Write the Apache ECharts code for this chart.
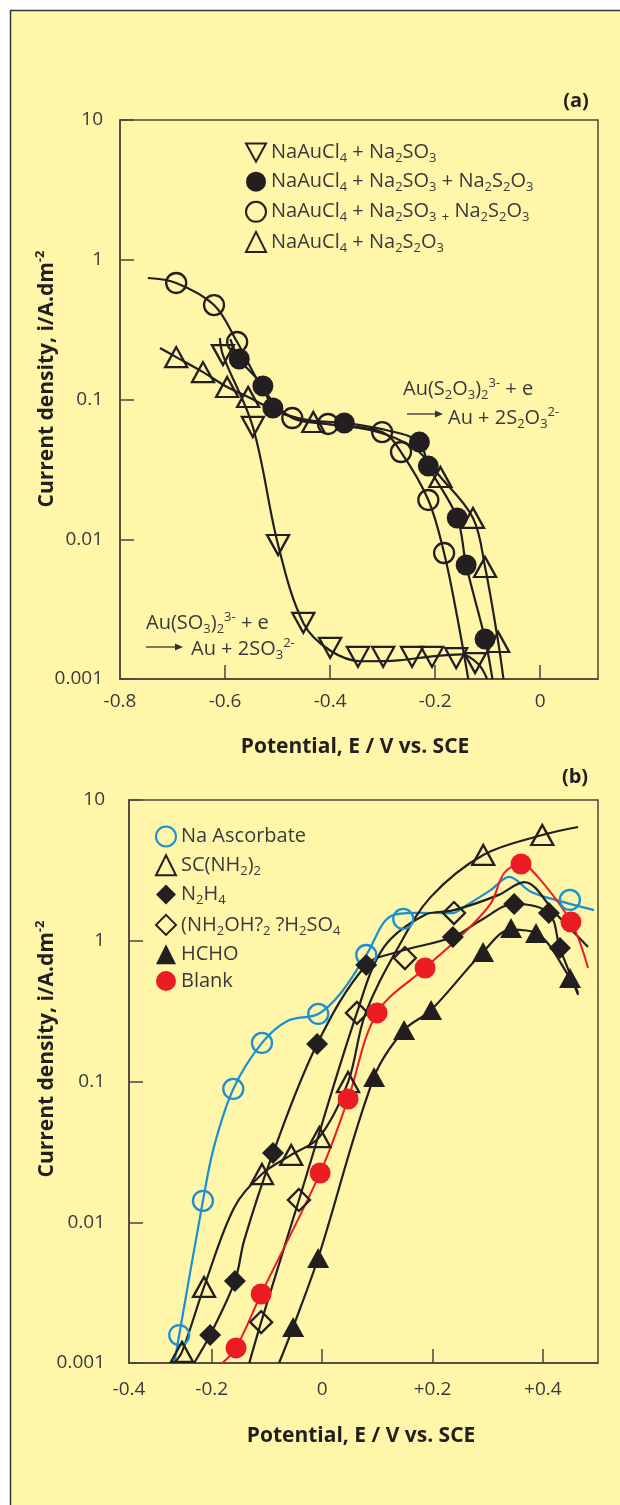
<!DOCTYPE html>
<html><head><meta charset="utf-8">
<script src="https://cdn.jsdelivr.net/npm/echarts@6/dist/echarts.min.js"></script>
<style>html,body{margin:0;padding:0;background:#fff}#c{width:620px;height:1505px}</style>
</head><body><div id="c"></div>
<script>
// ---------- Panel (a) data : [potential V, current density A/dm2] ----------
const aSulfitePts = [[-0.604,0.208],[-0.547,0.0636],[-0.499,0.0091],[-0.451,0.00252],[-0.400,0.00167],[-0.347,0.00144],[-0.299,0.00144],[-0.244,0.00144],[-0.206,0.00144],[-0.160,0.00141],[-0.124,0.00130]];
const aSulfiteCurve = [[-0.610,0.275],[-0.604,0.208],[-0.547,0.0636],[-0.499,0.0091],[-0.451,0.00252],[-0.400,0.00160],[-0.34,0.00134],[-0.27,0.00136],[-0.20,0.00146],[-0.15,0.00150],[-0.118,0.00128],[-0.101,0.001]];
const aMixFilledPts = [[-0.573,0.195],[-0.528,0.1249],[-0.509,0.0869],[-0.373,0.0679],[-0.230,0.0496],[-0.213,0.0334],[-0.158,0.0142],[-0.141,0.00654],[-0.105,0.00193]];
const aMixFilledCurve = [[-0.59,0.27],[-0.573,0.195],[-0.528,0.1249],[-0.509,0.0869],[-0.45,0.072],[-0.373,0.0679],[-0.29,0.060],[-0.230,0.0496],[-0.213,0.0334],[-0.158,0.0142],[-0.141,0.00654],[-0.105,0.00193],[-0.091,0.001]];
const aMixOpenPts = [[-0.693,0.682],[-0.621,0.474],[-0.577,0.258],[-0.472,0.0737],[-0.404,0.0668],[-0.301,0.0585],[-0.265,0.0421],[-0.213,0.0191],[-0.183,0.00797]];
const aMixOpenCurve = [[-0.747,0.74],[-0.693,0.682],[-0.621,0.474],[-0.577,0.258],[-0.525,0.115],[-0.472,0.0737],[-0.404,0.0668],[-0.301,0.0585],[-0.265,0.0421],[-0.213,0.0191],[-0.183,0.00797],[-0.158,0.00278],[-0.137,0.001]];
const aThioPts = [[-0.693,0.201],[-0.642,0.157],[-0.596,0.1229],[-0.556,0.1042],[-0.432,0.069],[-0.190,0.0279],[-0.128,0.0142],[-0.105,0.00633],[-0.080,0.00184]];
const aThioCurve = [[-0.724,0.2336],[-0.693,0.201],[-0.642,0.157],[-0.596,0.1229],[-0.556,0.1042],[-0.50,0.082],[-0.432,0.069],[-0.32,0.060],[-0.24,0.045],[-0.190,0.0279],[-0.128,0.0142],[-0.105,0.00633],[-0.080,0.00184],[-0.070,0.001]];

// ---------- Panel (b) data ----------
const bAscorbatePts = [[-0.259,0.00158],[-0.216,0.0142],[-0.161,0.0885],[-0.109,0.188],[-0.007,0.302],[0.080,0.792],[0.147,1.43],[0.449,1.95]];
const bAscorbateCurve = [[-0.268,0.001],[-0.259,0.00158],[-0.216,0.0142],[-0.196,0.0343],[-0.161,0.0885],[-0.109,0.188],[-0.062,0.27],[-0.007,0.302],[0.034,0.425],[0.080,0.792],[0.125,1.5],[0.17,1.58],[0.236,1.57],[0.257,1.74],[0.306,2.30],[0.339,2.84],[0.379,2.22],[0.438,1.88],[0.493,1.65]];
const bThioureaPts = [[-0.254,0.00120],[-0.214,0.00347],[-0.109,0.0220],[-0.056,0.0301],[-0.005,0.0403],[0.047,0.0991],[0.292,4.07],[0.399,5.64]];
const bThioureaCurve = [[-0.268,0.001],[-0.254,0.0012],[-0.214,0.00347],[-0.159,0.0128],[-0.109,0.022],[-0.056,0.0301],[-0.005,0.0403],[0.047,0.099],[0.078,0.30],[0.138,0.90],[0.197,2.05],[0.292,4.07],[0.399,5.64],[0.464,6.43]];
const bHydrazinePts = [[-0.203,0.00158],[-0.158,0.00383],[-0.089,0.0310],[-0.009,0.1846],[0.080,0.673],[0.237,1.064],[0.348,1.824],[0.411,1.574],[0.431,0.888]];
const bHydrazineCurve = [[-0.232,0.001],[-0.203,0.00158],[-0.158,0.00383],[-0.141,0.0075],[-0.089,0.031],[-0.009,0.1846],[0.080,0.673],[0.137,0.832],[0.237,1.064],[0.288,1.40],[0.348,1.824],[0.411,1.574],[0.431,0.888],[0.464,0.425]];
const bHydroxylaminePts = [[-0.1105,0.00195],[-0.042,0.0144],[0.063,0.307],[0.150,0.754],[0.239,1.574]];
const bHydroxylamineCurve = [[-0.132,0.001],[-0.1105,0.00195],[-0.042,0.0144],[0.063,0.307],[0.112,0.90],[0.185,1.52],[0.239,1.65],[0.319,2.11],[0.366,2.61],[0.424,1.55],[0.482,0.903]];
const bFormaldehydePts = [[-0.0525,0.0018],[-0.0072,0.00557],[0.0942,0.1076],[0.1486,0.232],[0.1975,0.322],[0.2917,0.832],[0.3424,1.233],[0.3877,1.135],[0.4493,0.544]];
const bFormaldehydeCurve = [[-0.078,0.001],[-0.0525,0.0018],[-0.0072,0.00557],[0.0942,0.1076],[0.1486,0.232],[0.1975,0.322],[0.2917,0.832],[0.3424,1.20],[0.3877,1.135],[0.4493,0.544],[0.464,0.412]];
const bBlankPts = [[-0.156,0.00128],[-0.1105,0.00309],[-0.0036,0.0224],[0.0471,0.0751],[0.0996,0.307],[0.1866,0.64],[0.3605,3.51],[0.451,1.358]];
const bBlankCurve = [[-0.181,0.001],[-0.156,0.00128],[-0.1105,0.00309],[-0.0036,0.0224],[0.0471,0.0751],[0.0996,0.307],[0.1866,0.64],[0.257,1.135],[0.306,1.85],[0.33,3.03],[0.3605,3.51],[0.391,2.84],[0.451,1.358],[0.482,0.64]];

// ---------- labels ----------
const legendA = ['NaAuCl_{4} + Na_{2}SO_{3}', 'NaAuCl_{4} + Na_{2}SO_{3} + Na_{2}S_{2}O_{3}', 'NaAuCl_{4} + Na_{2}SO_{3} _{+} Na_{2}S_{2}O_{3}', 'NaAuCl_{4} + Na_{2}S_{2}O_{3}'];
const legendB = ['Na Ascorbate', 'SC(NH_{2})_{2}', 'N_{2}H_{4}', '(NH_{2}OH?_{2} ?H_{2}SO_{4}', 'HCHO', 'Blank'];
const xTickLabelsA = ['-0.8', '-0.6', '-0.4', '-0.2', '0'];
const xTickValuesA = [-0.8, -0.6, -0.4, -0.2, 0];
const xTickLabelsB = ['-0.4', '-0.2', '0', '+0.2', '+0.4'];
const xTickValuesB = [-0.35, -0.2, 0, 0.2, 0.4];
const yTickLabels = ['0.001', '0.01', '0.1', '1', '10'];
const xTitle = 'Potential, E / V vs. SCE';
const yTitle = 'Current density, i/A.dm^{-2}';
const annotTopA1 = 'Au(S_{2}O_{3})_{2}^{3-} + e';
const annotTopA2 = 'Au + 2S_{2}O_{3}^{2-}';
const annotBotA1 = 'Au(SO_{3})_{2}^{3-} + e';
const annotBotA2 = 'Au + 2SO_{3}^{2-}';

const FONT = "'Open Sans', 'Noto Sans', sans-serif";
const BG = '#FFF6AA', AX = '#4a463c', INK = '#231f20', TXT = '#3a3a3a', RED = '#ec1c24', BLUE = '#1b8fd0';
const DOWN_TRI = 'path://M0,0L22,0L11,20Z';

function rich(markup, st) {
  let out = '', last = 0, m;
  const re = /([_^])\{([^}]*)\}/g;
  while ((m = re.exec(markup))) {
    if (m.index > last) out += '{' + st + '|' + markup.slice(last, m.index) + '}';
    out += '{' + st + (m[1] === '_' ? 'Sub' : 'Sup') + '|' + m[2] + '}';
    last = re.lastIndex;
  }
  if (last < markup.length) out += '{' + st + '|' + markup.slice(last) + '}';
  return out;
}
function richStyles(size, weight, color) {
  const small = Math.round(size * 0.64);
  const base = {fontFamily: FONT, fontWeight: weight, color: color, fill: color};
  return {
    n: Object.assign({}, base, {fontSize: size, lineHeight: size + 5}),
    nSub: Object.assign({}, base, {fontSize: small, lineHeight: small + 1, verticalAlign: 'bottom'}),
    nSup: Object.assign({}, base, {fontSize: small, lineHeight: small + 1, verticalAlign: 'top'})
  };
}
const richN = richStyles(20, 'normal', TXT);
const richB = richStyles(21, 'bold', INK);

function curve(data, color, gi, w) {
  return {type: 'line', data: data, xAxisIndex: gi, yAxisIndex: gi, smooth: 0.35, symbol: 'none',
    lineStyle: {color: color, width: w || 2.2}, z: 2, silent: true, animation: false};
}
function pts(name, data, gi, symbol, size, filled, color) {
  return {type: 'scatter', name: name, data: data, xAxisIndex: gi, yAxisIndex: gi, symbol: symbol,
    symbolSize: size, z: 3, silent: true, animation: false,
    itemStyle: {color: filled ? color : 'rgba(0,0,0,0)', borderColor: color, borderWidth: filled ? 0 : 2.3, opacity: 1}};
}

const series = [
  curve(aSulfiteCurve, INK, 0), curve(aMixFilledCurve, INK, 0), curve(aMixOpenCurve, INK, 0), curve(aThioCurve, INK, 0),
  pts('a0', aSulfitePts, 0, DOWN_TRI, [22, 20], false, INK),
  pts('a1', aMixFilledPts, 0, 'circle', 21, true, INK),
  pts('a2', aMixOpenPts, 0, 'circle', 20, false, INK),
  pts('a3', aThioPts, 0, 'triangle', [22, 20], false, INK),
  curve(bAscorbateCurve, BLUE, 1), curve(bThioureaCurve, INK, 1), curve(bHydrazineCurve, INK, 1),
  curve(bHydroxylamineCurve, INK, 1), curve(bFormaldehydeCurve, INK, 1), curve(bBlankCurve, RED, 1, 2),
  pts('b0', bAscorbatePts, 1, 'circle', 20, false, BLUE),
  pts('b1', bThioureaPts, 1, 'triangle', [22, 20], false, INK),
  pts('b2', bHydrazinePts, 1, 'diamond', 22, true, INK),
  pts('b3', bHydroxylaminePts, 1, 'diamond', 22, false, INK),
  pts('b4', bFormaldehydePts, 1, 'triangle', [22, 20], true, INK),
  pts('b5', bBlankPts, 1, 'circle', 21, true, RED)
];
const legendLabelMap = {a0: legendA[0], a1: legendA[1], a2: legendA[2], a3: legendA[3],
  b0: legendB[0], b1: legendB[1], b2: legendB[2], b3: legendB[3], b4: legendB[4], b5: legendB[5]};

function xAxis(gi, min, max, vals, labels, margin) {
  return {gridIndex: gi, type: 'value', min: min, max: max,
    axisLine: {show: true, onZero: false, lineStyle: {color: AX, width: 1.5}},
    axisTick: {show: true, inside: true, length: 14, customValues: vals.slice(1), lineStyle: {color: AX, width: 1.5}},
    splitLine: {show: false},
    axisLabel: {margin: margin, fontSize: 19, color: TXT, fontFamily: FONT, customValues: vals,
      formatter: function (v) { let best = 0; vals.forEach(function (t, i) { if (Math.abs(t - v) < Math.abs(vals[best] - v)) best = i; }); return labels[best]; }}
  };
}
function yAxis(gi, margin) {
  return {gridIndex: gi, type: 'log', logBase: 10, min: 0.001, max: 10,
    axisLine: {show: true, onZero: false, lineStyle: {color: AX, width: 1.5}},
    axisTick: {show: true, inside: true, length: 14, lineStyle: {color: AX, width: 1.5}},
    minorTick: {show: false}, splitLine: {show: false},
    axisLabel: {margin: margin, fontSize: 19, color: TXT, fontFamily: FONT,
      formatter: function (v) { return yTickLabels[Math.round(Math.log10(v)) + 3]; }}
  };
}
function legend(ids, left, top, gap) {
  return {data: ids, orient: 'vertical', left: left, top: top, itemWidth: 20, itemHeight: 20, itemGap: gap,
    selectedMode: false, padding: 0,
    formatter: function (name) { return rich(legendLabelMap[name], 'n'); },
    textStyle: {fontSize: 20, fontFamily: FONT, color: TXT, rich: richN}};
}
function gtext(x, y, markup, rs, align, rot) {
  return {type: 'text', x: x, y: y, rotation: rot || 0, z: 50,
    style: {text: rich(markup, 'n'), rich: rs, align: align || 'left', verticalAlign: 'middle',
      fill: rs.n.fill, fontFamily: FONT}};
}
function arrow(x1, x2, y) {
  return [
    {type: 'line', z: 50, shape: {x1: x1, y1: y, x2: x2 - 6, y2: y}, style: {stroke: '#333', lineWidth: 1.3}},
    {type: 'polygon', z: 50, shape: {points: [[x2 - 8, y - 3.5], [x2, y], [x2 - 8, y + 3.5]]}, style: {fill: '#333'}}
  ];
}

const chart = echarts.init(document.getElementById('c'), null, {renderer: 'canvas'});
chart.setOption({
  backgroundColor: '#ffffff',
  animation: false,
  grid: [
    {left: 120, top: 120, width: 478, height: 559, show: true, borderColor: AX, borderWidth: 1.5, backgroundColor: 'transparent', containLabel: false, outerBoundsMode: 'none'},
    {left: 129, top: 800, width: 469, height: 563, show: true, borderColor: AX, borderWidth: 1.5, backgroundColor: 'transparent', containLabel: false, outerBoundsMode: 'none'}
  ],
  xAxis: [xAxis(0, -0.8, 0.11, xTickValuesA, xTickLabelsA, 13), xAxis(1, -0.35, 0.5, xTickValuesB, xTickLabelsB, 17)],
  yAxis: [yAxis(0, 17), yAxis(1, 24)],
  legend: [legend(['a0', 'a1', 'a2', 'a3'], 245, 142.5, 6.6), legend(['b0', 'b1', 'b2', 'b3', 'b4', 'b5'], 155, 825.5, 6.8)],
  series: series,
  graphic: {elements: [
    {type: 'rect', z: -10, shape: {x: 10.5, y: 10.5, width: 700, height: 1600}, style: {fill: BG, stroke: '#333', lineWidth: 1.5}},
    gtext(576, 101, '(a)', richStyles(20, 'bold', INK), 'center'),
    gtext(575, 777, '(b)', richStyles(20, 'bold', INK), 'center'),
    gtext(355, 747, xTitle, richB, 'center'),
    gtext(361, 1436, xTitle, richB, 'center'),
    gtext(47, 379, yTitle, richB, 'center', Math.PI / 2),
    gtext(47, 1049, yTitle, richB, 'center', Math.PI / 2),
    gtext(403, 389, annotTopA1, richN),
    gtext(448, 418, annotTopA2, richN),
    gtext(146, 623, annotBotA1, richN),
    gtext(191, 649, annotBotA2, richN)
  ].concat(arrow(407, 443, 414)).concat(arrow(146, 183, 647))}
});
</script></body></html>
